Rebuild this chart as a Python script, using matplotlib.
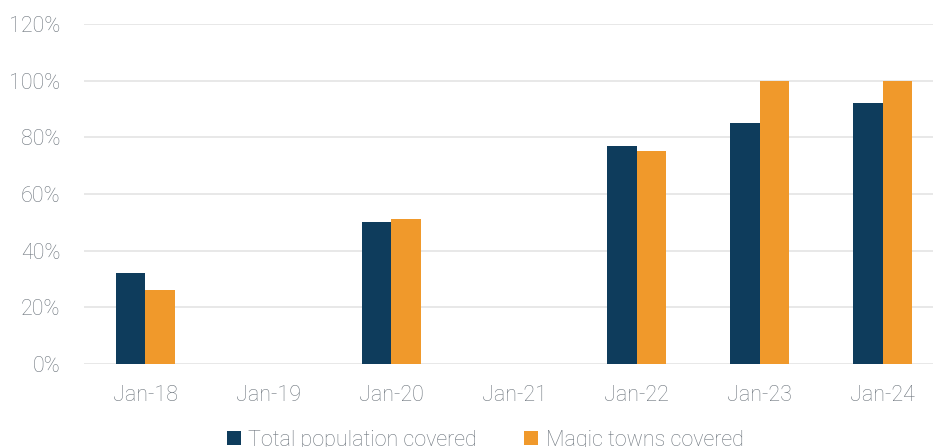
import matplotlib
matplotlib.use("Agg")
import matplotlib.pyplot as plt
import numpy as np
from matplotlib.ticker import FuncFormatter

categories = ["Jan-18", "Jan-19", "Jan-20", "Jan-21", "Jan-22", "Jan-23", "Jan-24"]
total_population = [32, None, 50, None, 77, 85, 92]
magic_towns = [26, None, 51, None, 75, 100, 100]
series_names = ["Total population covered", "Magic towns covered"]
yticks = [0, 20, 40, 60, 80, 100, 120]

navy = "#0E3C5C"
orange = "#F0992B"
text_gray = "#6E767E"
grid_gray = "#E6E6E6"

plt.rcParams['font.family'] = ['Roboto', 'DejaVu Sans']

fig = plt.figure(figsize=(9.33, 4.47), dpi=100)
ax = fig.add_axes([84/933, (447-364)/447, (933-84)/933, (364-24)/447])

x = np.arange(len(categories))
w = 0.24

def clean(vals):
    return [np.nan if v is None else v for v in vals]

ax.bar(x - w/2, clean(total_population), width=w, color=navy, label=series_names[0], zorder=3)
ax.bar(x + w/2, clean(magic_towns), width=w, color=orange, label=series_names[1], zorder=3)

ax.set_xlim(-0.5, 6.41)
ax.set_ylim(0, 120)
ax.set_yticks(yticks)
ax.yaxis.set_major_formatter(FuncFormatter(lambda v, p: f"{int(v)}%"))
ax.set_xticks(x)
ax.set_xticklabels(categories)

for s in ax.spines.values():
    s.set_visible(False)
ax.grid(axis='y', color=grid_gray, linewidth=1.3, zorder=0)
ax.tick_params(axis='both', length=0, labelsize=15.5, colors=text_gray)
ax.tick_params(axis='y', pad=17)
ax.tick_params(axis='x', pad=15)
for lab in ax.get_xticklabels() + ax.get_yticklabels():
    lab.set_fontweight('light')

leg = fig.legend(loc='center', bbox_to_anchor=(0.52, 0.015), ncol=2, frameon=False,
                 handlelength=0.65, handleheight=0.65, handletextpad=0.35,
                 columnspacing=2.2, prop={'weight': 'light', 'size': 15.5})
for t in leg.get_texts():
    t.set_color(text_gray)

fig.savefig("out.png", dpi=100)
